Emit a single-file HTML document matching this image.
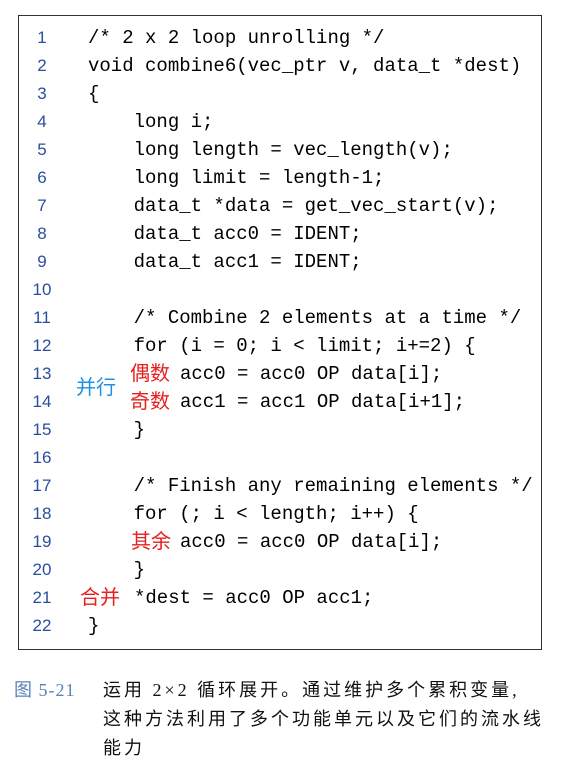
<!DOCTYPE html>
<html><head><meta charset="utf-8"><style>
body{margin:0;width:566px;height:760px;background:#fff;position:relative;overflow:hidden}
.box{position:absolute;left:18px;top:15px;width:522px;height:633px;border:1.5px solid #333;border-right-width:1px}
.l{position:absolute;height:28px;line-height:28px;white-space:pre;font-family:"Liberation Mono",monospace;font-size:19px;color:#000}
.n{position:absolute;width:30px;text-align:center;left:27px;height:28px;line-height:28px;font-family:"Liberation Sans",sans-serif;font-size:17px;color:#2a4e9c}
.c{position:absolute;height:28px;line-height:28px;font-family:"Liberation Sans","Noto Sans CJK SC",sans-serif;font-size:20px;color:#e62020}
.cap{position:absolute;font-family:"Liberation Serif","Noto Sans CJK SC",sans-serif;font-size:18px;letter-spacing:3px;color:#111;white-space:nowrap}
</style></head><body>
<div class="box"></div>
<div class="n" style="top:24px">1</div><div class="l" style="left:88px;top:24px">/* 2 x 2 loop unrolling */</div>
<div class="n" style="top:52px">2</div><div class="l" style="left:88px;top:52px">void combine6(vec_ptr v, data_t *dest)</div>
<div class="n" style="top:80px">3</div><div class="l" style="left:88px;top:80px">{</div>
<div class="n" style="top:108px">4</div><div class="l" style="left:88px;top:108px">    long i;</div>
<div class="n" style="top:136px">5</div><div class="l" style="left:88px;top:136px">    long length = vec_length(v);</div>
<div class="n" style="top:164px">6</div><div class="l" style="left:88px;top:164px">    long limit = length-1;</div>
<div class="n" style="top:192px">7</div><div class="l" style="left:88px;top:192px">    data_t *data = get_vec_start(v);</div>
<div class="n" style="top:220px">8</div><div class="l" style="left:88px;top:220px">    data_t acc0 = IDENT;</div>
<div class="n" style="top:248px">9</div><div class="l" style="left:88px;top:248px">    data_t acc1 = IDENT;</div>
<div class="n" style="top:276px">10</div>
<div class="n" style="top:304px">11</div><div class="l" style="left:88px;top:304px">    /* Combine 2 elements at a time */</div>
<div class="n" style="top:332px">12</div><div class="l" style="left:88px;top:332px">    for (i = 0; i &lt; limit; i+=2) {</div>
<div class="n" style="top:360px">13</div><div class="c" style="left:130px;top:360px">偶数</div><div class="l" style="left:180px;top:360px">acc0 = acc0 OP data[i];</div>
<div class="n" style="top:388px">14</div><div class="c" style="left:130px;top:388px">奇数</div><div class="l" style="left:180px;top:388px">acc1 = acc1 OP data[i+1];</div>
<div class="c" style="left:76px;top:374px;color:#1e90e6">并行</div>
<div class="n" style="top:416px">15</div><div class="l" style="left:88px;top:416px">    }</div>
<div class="n" style="top:444px">16</div>
<div class="n" style="top:472px">17</div><div class="l" style="left:88px;top:472px">    /* Finish any remaining elements */</div>
<div class="n" style="top:500px">18</div><div class="l" style="left:88px;top:500px">    for (; i &lt; length; i++) {</div>
<div class="n" style="top:528px">19</div><div class="c" style="left:131px;top:528px">其余</div><div class="l" style="left:180px;top:528px">acc0 = acc0 OP data[i];</div>
<div class="n" style="top:556px">20</div><div class="l" style="left:88px;top:556px">    }</div>
<div class="n" style="top:584px">21</div><div class="c" style="left:80px;top:584px">合并</div><div class="l" style="left:134px;top:584px">*dest = acc0 OP acc1;</div>
<div class="n" style="top:612px">22</div><div class="l" style="left:88px;top:612px">}</div>
<div class="cap" style="left:14px;top:676px;color:#5a80b8;letter-spacing:1px">图 5-21</div>
<div class="cap" style="left:103px;top:676px">运用 2×2 循环展开。通过维护多个累积变量,</div>
<div class="cap" style="left:103px;top:705px">这种方法利用了多个功能单元以及它们的流水线</div>
<div class="cap" style="left:103px;top:734px">能力</div>
</body></html>
